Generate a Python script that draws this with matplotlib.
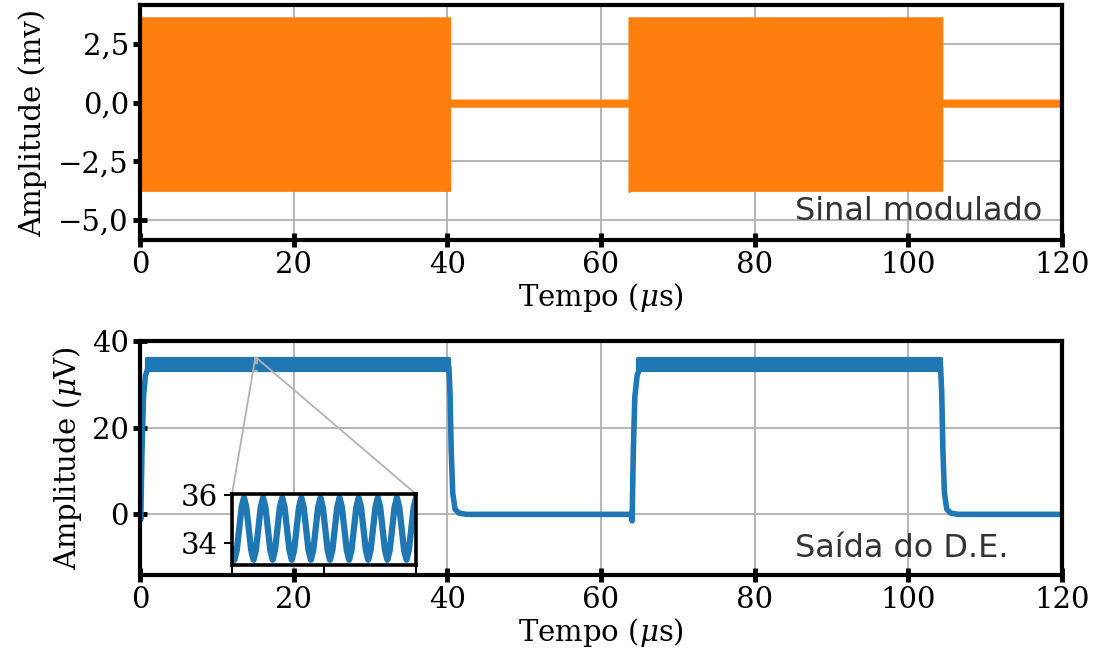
import numpy as np
import matplotlib
matplotlib.use("Agg")
from matplotlib import pyplot as plt
from mpl_toolkits.axes_grid1.inset_locator import mark_inset

plt.rcParams['font.family'] = ['DejaVu Serif']
plt.rcParams['mathtext.fontset'] = 'dejavuserif'

orange = '#ff7f0e'
blue = '#1f77b4'

# sinal modulado: envoltoria (mV)
mod_t = [0.0, 40.35, 40.35, 63.6, 63.6, 64.0, 104.4, 104.4, 120.0]
mod_hi = [3.62, 3.62, 0.12, 0.12, 3.62, 3.62, 3.62, 0.12, 0.12]
mod_lo = [-3.75, -3.75, -0.17, -0.17, -3.8, -3.75, -3.75, -0.17, -0.17]

# saida do detector de envoltoria (uV)
de_t = [0.0, 0.1, 0.25, 0.45, 0.7, 1.0, 1.5, 40.2, 40.35, 40.5, 40.7, 41.0,
        41.5, 42.5, 63.9, 64.05, 64.2, 64.4, 64.7, 65.0, 65.5, 104.2, 104.35,
        104.5, 104.7, 105.0, 105.5, 106.5, 120.0]
de_v = [0.0, -1.2, 14.0, 27.0, 32.0, 33.5, 34.0, 34.0, 28.0, 15.0, 5.0, 1.2,
        0.3, 0.0, 0.0, -1.5, 14.0, 27.0, 32.0, 33.5, 34.0, 34.0, 28.0,
        15.0, 5.0, 1.2, 0.3, 0.0, 0.0]
band_start = [0.9, 64.8]
band_end = [40.2, 104.2]
band_lo = [33.4, 33.4]
band_hi = [35.9, 35.9]

# zoom da ondulacao (inset)
ins_v = [33.7, 33.3, 33.7, 34.6, 35.5, 35.9, 35.5, 34.6,
         33.7, 33.3, 33.7, 34.6, 35.5, 35.9, 35.5, 34.6,
         33.7, 33.3, 33.7, 34.6, 35.5, 35.9, 35.5, 34.6,
         33.7, 33.3, 33.7, 34.6, 35.5, 35.9, 35.5, 34.6,
         33.7, 33.3, 33.7, 34.6, 35.5, 35.9, 35.5, 34.6,
         33.7, 33.3, 33.7, 34.6, 35.5, 35.9, 35.5, 34.6,
         33.7, 33.3, 33.7, 34.6, 35.5, 35.9, 35.5, 34.6,
         33.7, 33.3, 33.7, 34.6, 35.5, 35.9, 35.5, 34.6,
         33.7, 33.3, 33.7, 34.6, 35.5, 35.9, 35.5, 34.6,
         33.7, 33.3, 33.7, 34.6, 35.5, 35.9]
ins_t0 = 15.0
ins_dt = 0.0025
ins_t = ins_t0 + ins_dt * np.arange(len(ins_v))

x_ticks = [0, 20, 40, 60, 80, 100, 120]
top_yticks = [-5.0, -2.5, 0.0, 2.5]
top_ylabels = ['\u22125,0', '\u22122,5', '0,0', '2,5']
bot_yticks = [0, 20, 40]

fig = plt.figure(figsize=(10.99, 6.66), dpi=100)
ax1 = fig.add_axes([0.1274, 0.6396, 0.8389, 0.3529])
ax2 = fig.add_axes([0.1274, 0.1366, 0.8389, 0.3514])


def style(ax):
    for s in ax.spines.values():
        s.set_linewidth(3.0)
    ax.tick_params(direction='inout', length=10, width=3.5, labelsize=21, pad=3)
    ax.grid(True, color='#b0b0b0', linewidth=1.3)
    ax.set_axisbelow(True)


# topo
style(ax1)
ax1.fill_between(mod_t, mod_lo, mod_hi, color=orange, linewidth=1.0,
                 edgecolor=orange, joinstyle='round')
ax1.set_xlim(0, 120)
ax1.set_ylim(-5.85, 4.15)
ax1.set_xticks(x_ticks)
ax1.set_yticks(top_yticks)
ax1.set_yticklabels(top_ylabels)
ax1.set_xlabel('Tempo ($\\mu$s)', fontsize=21, labelpad=1)
ax1.set_ylabel('Amplitude (mv)', fontsize=21, labelpad=8)
ax1.text(0.71, 0.085, 'Sinal modulado', transform=ax1.transAxes, ha='left',
         va='baseline', fontsize=23, color='#333333', family='DejaVu Sans')

# baixo
style(ax2)
ax2.plot(de_t, de_v, color=blue, linewidth=4, solid_capstyle='round')
for a, b, lo, hi in zip(band_start, band_end, band_lo, band_hi):
    ax2.fill_between([a, b], [lo, lo], [hi, hi], color=blue, linewidth=3,
                     edgecolor=blue, joinstyle='round')
ax2.set_xlim(0, 120)
ax2.set_ylim(-14, 40)
ax2.set_xticks(x_ticks)
ax2.set_yticks(bot_yticks)
ax2.set_xlabel('Tempo ($\\mu$s)', fontsize=21, labelpad=1)
ax2.set_ylabel('Amplitude ($\\mu$V)', fontsize=21, labelpad=6)
ax2.text(0.71, 0.077, 'Saída do D.E.', transform=ax2.transAxes, ha='left',
         va='baseline', fontsize=23, color='#333333', family='DejaVu Sans')

axins = ax2.inset_axes([0.0998, 0.0427, 0.1996, 0.303])
axins.plot(ins_t, ins_v, color=blue, linewidth=4.5)
axins.set_xlim(ins_t[0], ins_t[-1])
axins.set_ylim(33.08, 36.05)
axins.set_yticks([34, 36])
axins.set_xticks([ins_t[0], (ins_t[0] + ins_t[-1]) / 2, ins_t[-1]])
axins.set_xticklabels([])
for s in axins.spines.values():
    s.set_linewidth(2.6)
axins.tick_params(direction='out', length=6, width=1.5, labelsize=21, pad=4)
mark_inset(ax2, axins, loc1=2, loc2=1, fc='none', ec='0.7', lw=1.3)

fig.savefig('out.png', dpi=100)
